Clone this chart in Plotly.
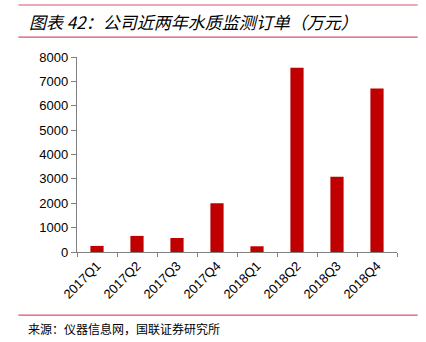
import plotly.graph_objects as go

categories = ["2017Q1", "2017Q2", "2017Q3", "2017Q4", "2018Q1", "2018Q2", "2018Q3", "2018Q4"]
orders = [250, 660, 575, 2000, 235, 7560, 3090, 6710]
y_ticks = [0, 1000, 2000, 3000, 4000, 5000, 6000, 7000, 8000]
title_text = "图表 42：公司近两年水质监测订单（万元）"
source_text = "来源：仪器信息网，国联证券研究所"

W, H = 426, 342
L, R, T, B = 76.7, 28.7, 57.4, 90
PW, PH = W - L - R, H - T - B

def px(x):
    return (x - L) / PW

def py(y):
    return (H - B - y) / PH

fig = go.Figure(go.Bar(
    x=categories, y=orders, marker_color="#c00000", width=0.33,
    marker_line_width=0,
))

line_color = "#d9536b"
shapes = []
for yy in [5.5, 37.5, 315]:
    shapes.append(dict(type="line", xref="paper", yref="paper",
                       x0=px(18), x1=px(418), y0=py(yy), y1=py(yy),
                       line=dict(color=line_color, width=1.2)))

fig.update_layout(
    width=W, height=H,
    margin=dict(l=L, r=R, t=T, b=B, pad=0),
    paper_bgcolor="white", plot_bgcolor="white",
    showlegend=False,
    shapes=shapes,
    annotations=[
        dict(text="<i>" + title_text + "</i>", xref="paper", yref="paper",
             x=px(27), y=py(22), xanchor="left", yanchor="middle", showarrow=False,
             font=dict(family="Noto Sans CJK SC", size=17, color="#000000")),
        dict(text=source_text, xref="paper", yref="paper",
             x=px(26), y=py(328), xanchor="left", yanchor="middle", showarrow=False,
             font=dict(family="Noto Sans CJK SC", size=12, color="#000000")),
    ],
    bargap=0.67,
)
fig.update_xaxes(
    type="category", showline=True, linecolor="#808080", linewidth=1.3,
    ticks="outside", tickson="boundaries", ticklen=4, tickcolor="#808080", tickwidth=1.3,
    tickangle=-45, tickfont=dict(family="Liberation Sans", size=13, color="#000000"),
    showgrid=False, zeroline=False,
)
fig.update_yaxes(
    range=[0, 8000], tickvals=y_ticks, showline=True, linecolor="#808080", linewidth=1.3,
    ticks="outside", ticklen=5, tickcolor="#808080", tickwidth=1.3,
    tickfont=dict(family="Liberation Sans", size=13, color="#000000"),
    showgrid=False, zeroline=False,
)

fig.write_html("out.html")
